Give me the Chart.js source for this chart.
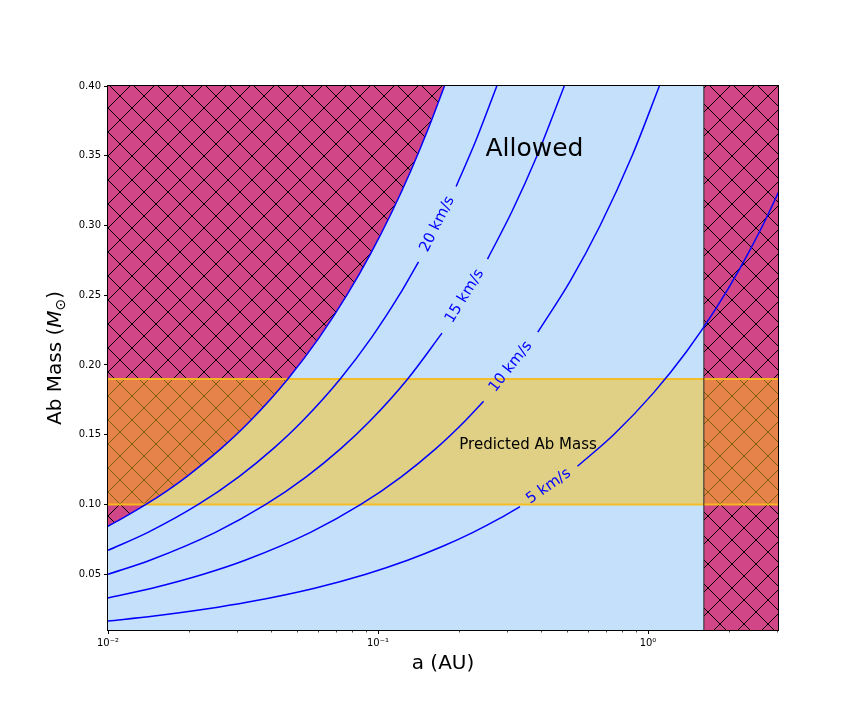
<!DOCTYPE html>
<html><head><meta charset="utf-8">
<script src="https://cdn.jsdelivr.net/npm/chart.js@4.4.1/dist/chart.umd.min.js"></script>
<style>html,body{margin:0;padding:0;background:#fff}canvas{display:block}</style>
</head><body>
<canvas id="c" width="864" height="720"></canvas>
<script>
// ---------------- data ----------------
const xRange = [0.01, 3.03];          // a (AU)
const yRange = [0.01, 0.40];          // Ab mass (Msun)
const xMajorTicks = [0.01, 0.1, 1];
const xTickLabels = ['10\u207B\u00B2', '10\u207B\u00B9', '10\u2070'];
const xMinorTicks = [0.02,0.03,0.04,0.05,0.06,0.07,0.08,0.09,0.2,0.3,0.4,0.5,0.6,0.7,0.8,0.9,2,3];
const yTicks = [0.05,0.10,0.15,0.20,0.25,0.30,0.35,0.40];

const predictedMass = [0.10, 0.19];   // predicted Ab mass band
const separationLimit = 1.61;         // excluded region for a > 1.61 AU

// velocity contours (a in AU, M in Msun); null = gap for the inline label
const curve25A = [0.01, 0.01129, 0.01382, 0.01659, 0.01957, 0.02620, 0.03367, 0.04636, 0.06073, 0.07665, 0.09403, 0.1128, 0.1328, 0.1540, 0.1763];
const curve25M = [0.0844, 0.09, 0.10, 0.11, 0.12, 0.14, 0.16, 0.19, 0.22, 0.25, 0.28, 0.31, 0.34, 0.37, 0.40];

const curve20A = [0.01, 0.01406, 0.02160, 0.03058, 0.04094, 0.05261, 0.07244, 0.09488, 0.1198, 0.1413, 0.166, 0.1947, 0.2294, 0.2755];
const curve20M = [0.0671, 0.08, 0.10, 0.12, 0.14, 0.16, 0.19, 0.22, 0.25, 0.274, null, 0.328, 0.36, 0.40];

const curve15A = [0.01, 0.01431, 0.02500, 0.03840, 0.05437, 0.07280, 0.09354, 0.1288, 0.1726, 0.21, 0.2544, 0.3133, 0.3881, 0.4898];
const curve15M = [0.0499, 0.06, 0.08, 0.10, 0.12, 0.14, 0.16, 0.19, 0.2228, null, 0.2759, 0.31, 0.35, 0.40];

const curve10A = [0.01, 0.01456, 0.02255, 0.03219, 0.05624, 0.08639, 0.1223, 0.1638, 0.2105, 0.2461, 0.31, 0.3906, 0.5143, 0.6648, 0.8732, 1.102];
const curve10M = [0.0330, 0.04, 0.05, 0.06, 0.08, 0.10, 0.12, 0.14, 0.16, 0.174, null, 0.2235, 0.26, 0.30, 0.35, 0.40];

const curve5A = [0.01, 0.01482, 0.02306, 0.03305, 0.05824, 0.09019, 0.1287, 0.1737, 0.2249, 0.2822, 0.3356, 0.43, 0.5480, 0.7457, 1.048, 1.394, 1.779, 2.201, 2.659, 3.149];
const curve5M = [0.0164, 0.02, 0.025, 0.03, 0.04, 0.05, 0.06, 0.07, 0.08, 0.09, 0.0985, null, 0.1274, 0.15, 0.18, 0.21, 0.24, 0.27, 0.30, 0.33];

const curveLabels = ['', '20 km/s', '15 km/s', '10 km/s', '5 km/s'];

// ---------------- build ----------------
const pts = (A, M) => A.map((a, i) => ({x: a, y: M[i]}));
const curves = [pts(curve25A, curve25M), pts(curve20A, curve20M), pts(curve15A, curve15M), pts(curve10A, curve10M), pts(curve5A, curve5M)];

const canvas = document.getElementById('c');
const ctx0 = canvas.getContext('2d');
function makeHatch() {
  const s = 24;
  const t = document.createElement('canvas'); t.width = s; t.height = s;
  const g = t.getContext('2d');
  g.fillStyle = '#d04687'; g.fillRect(0, 0, s, s);
  g.strokeStyle = '#000'; g.lineWidth = 1;
  g.beginPath();
  for (const o of [-s, 0, s]) {
    g.moveTo(o, 0); g.lineTo(o + s, s);
    g.moveTo(o, s); g.lineTo(o + s, 0);
  }
  g.stroke();
  return ctx0.createPattern(t, 'repeat');
}
const hatch = makeHatch();
const FONT = 'DejaVu Sans';
const NONE = 'rgba(0,0,0,0)';

const datasets = [];
curves.forEach((d, i) => datasets.push({
  data: d, borderColor: '#0000ff', borderWidth: 1.5, pointRadius: 0, fill: false,
  cubicInterpolationMode: 'monotone', spanGaps: false, order: 1, contourLabel: curveLabels[i]
}));
datasets.push({ // right region edge
  data: [{x: separationLimit, y: yRange[0]}, {x: separationLimit, y: yRange[1]}],
  borderColor: '#262626', borderWidth: 1, pointRadius: 0, fill: false, order: 2
});
datasets.push({ // predicted band
  data: [{x: xRange[0], y: predictedMass[1]}, {x: xRange[1], y: predictedMass[1]}],
  borderColor: 'rgba(245,186,30,0.95)', borderWidth: 2, pointRadius: 0,
  fill: {value: predictedMass[0]}, backgroundColor: 'rgba(251,192,16,0.5)', order: 3
});
datasets.push({
  data: [{x: xRange[0], y: predictedMass[0]}, {x: xRange[1], y: predictedMass[0]}],
  borderColor: 'rgba(245,186,30,0.95)', borderWidth: 2, pointRadius: 0, fill: false, order: 3
});
datasets.push({ // left excluded region (above 25 km/s contour)
  data: curves[0], borderColor: NONE, borderWidth: 0, pointRadius: 0,
  cubicInterpolationMode: 'monotone', fill: 'end', backgroundColor: hatch, order: 5
});
datasets.push({ // right excluded region
  data: [{x: separationLimit, y: yRange[1]}, {x: xRange[1], y: yRange[1]}],
  borderColor: NONE, borderWidth: 0, pointRadius: 0, fill: 'start', backgroundColor: hatch, order: 5
});

const notes = [
  {text: 'Allowed', a: 0.25, m: 0.35, size: 25},
  {text: 'Predicted Ab Mass', a: 0.2, m: 0.14, size: 15}
];

const decor = {
  id: 'decor',
  beforeDatasetsDraw(chart) {
    const {ctx, chartArea: c} = chart;
    ctx.save(); ctx.fillStyle = '#c5e0fb';
    ctx.fillRect(c.left, c.top, c.right - c.left, c.bottom - c.top);
    ctx.restore();
  },
  afterDatasetsDraw(chart) {
    const {ctx} = chart;
    const xs = chart.scales.x, ys = chart.scales.y;
    ctx.save();
    // contour labels in the gaps
    chart.data.datasets.forEach((ds, di) => {
      if (!ds.contourLabel) return;
      const gi = ds.data.findIndex(p => p.y === null);
      if (gi < 1) return;
      const meta = chart.getDatasetMeta(di);
      const p0 = meta.data[gi - 1], p1 = meta.data[gi + 1];
      const mx = (p0.x + p1.x) / 2, my = (p0.y + p1.y) / 2;
      const ang = Math.atan2(p1.y - p0.y, p1.x - p0.x);
      ctx.save();
      ctx.translate(mx, my); ctx.rotate(ang);
      ctx.font = '15px "' + FONT + '"'; ctx.fillStyle = '#0000ff';
      ctx.textAlign = 'center'; ctx.textBaseline = 'middle';
      ctx.fillText(ds.contourLabel, 0, 0);
      ctx.restore();
    });
    notes.forEach(n => {
      ctx.font = n.size + 'px "' + FONT + '"'; ctx.fillStyle = '#000';
      ctx.textAlign = 'left'; ctx.textBaseline = 'alphabetic';
      ctx.fillText(n.text, xs.getPixelForValue(n.a), ys.getPixelForValue(n.m));
    });
    ctx.restore();
  },
  afterDraw(chart) {
    const {ctx, chartArea: c} = chart;
    const xs = chart.scales.x;
    ctx.save();
    // frame
    ctx.strokeStyle = '#000'; ctx.lineWidth = 1;
    ctx.strokeRect(Math.round(c.left) - 0.5, Math.round(c.top) - 0.5, Math.round(c.right - c.left) + 1, Math.round(c.bottom - c.top) + 1);
    // minor ticks
    ctx.lineWidth = 0.7; ctx.beginPath();
    xMinorTicks.forEach(v => {
      const px = Math.round(xs.getPixelForValue(v)) + 0.5;
      ctx.moveTo(px, c.bottom); ctx.lineTo(px, c.bottom + 2.5);
    });
    ctx.stroke();
    // x title
    ctx.fillStyle = '#000';
    ctx.font = '20px "' + FONT + '"';
    ctx.textAlign = 'center'; ctx.textBaseline = 'alphabetic';
    ctx.fillText('a (AU)', (c.left + c.right) / 2, 669);
    // y title with italic M and subscript sun
    const parts = [
      {t: 'Ab Mass (', f: '20px "' + FONT + '"', dy: 0},
      {t: 'M', f: 'italic 20px "' + FONT + '"', dy: 0},
      {t: '\u2299', f: '14px "' + FONT + '"', dy: 4},
      {t: ')', f: '20px "' + FONT + '"', dy: 0}
    ];
    let total = 0;
    parts.forEach(p => { ctx.font = p.f; p.w = ctx.measureText(p.t).width; total += p.w; });
    ctx.translate(61, (c.top + c.bottom) / 2);
    ctx.rotate(-Math.PI / 2);
    ctx.textAlign = 'left';
    let x = -total / 2;
    parts.forEach(p => { ctx.font = p.f; ctx.fillText(p.t, x, p.dy); x += p.w; });
    ctx.restore();
  }
};

new Chart(canvas, {
  type: 'line',
  data: {datasets},
  options: {
    responsive: false, animation: false, devicePixelRatio: 1,
    layout: {padding: {left: 0, top: 86, right: 86, bottom: 0}},
    plugins: {legend: {display: false}, tooltip: {enabled: false}},
    elements: {line: {tension: 0}},
    scales: {
      x: {
        type: 'logarithmic', min: xRange[0], max: xRange[1],
        afterBuildTicks: s => { s.ticks = xMajorTicks.map(v => ({value: v})); },
        afterFit: s => { s.height = 90; },
        grid: {drawOnChartArea: false, drawTicks: true, tickLength: 4, color: '#000', tickWidth: 1},
        border: {display: false},
        ticks: {
          callback: v => xTickLabels[xMajorTicks.indexOf(v)] ?? '',
          font: {family: FONT, size: 10}, color: '#000', padding: 3, maxRotation: 0, autoSkip: false
        }
      },
      y: {
        type: 'linear', min: yRange[0], max: yRange[1],
        afterBuildTicks: s => { s.ticks = yTicks.map(v => ({value: v})); },
        afterFit: s => { s.width = 108; },
        grid: {drawOnChartArea: false, drawTicks: true, tickLength: 4, color: '#000', tickWidth: 1},
        border: {display: false},
        ticks: {
          callback: v => Number(v).toFixed(2),
          font: {family: FONT, size: 10}, color: '#000', padding: 3
        }
      }
    }
  },
  plugins: [decor]
});
</script>
</body></html>
